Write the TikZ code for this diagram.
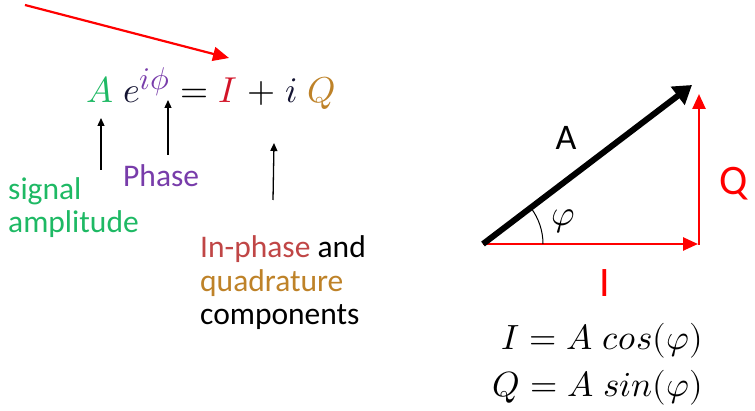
\documentclass[tikz,border=0pt]{standalone}
\usepackage{fontspec}
\usepackage{unicode-math}
\setmathfont{Latin Modern Math}
\usetikzlibrary{arrows.meta}
\newfontfamily\calfont{Carlito}
\definecolor{ampgreen}{RGB}{30,185,100}
\definecolor{phpurple}{RGB}{120,60,170}
\definecolor{inred}{RGB}{192,70,70}
\definecolor{eqred}{RGB}{210,20,40}
\definecolor{quadbrown}{RGB}{190,130,40}
\definecolor{eqnavy}{RGB}{20,20,50}
\tikzset{
  lbl/.style={anchor=base west,inner sep=0pt,font=\calfont\fontsize{31.5}{33}\selectfont},
  thinarrow/.style={draw=black,line width=1.3pt,-{Triangle[length=8pt,width=7pt]}},
  redarrow/.style={draw=red,line width=2.5pt,-{Triangle[length=15pt,width=13pt]}},
  bigarrow/.style={draw=black,line width=6pt,-{Triangle[length=18pt,width=22pt]}},
  bigtxt/.style={inner sep=0pt,text=red,font=\calfont\fontsize{42}{46}\selectfont},
}
\begin{document}
\begin{tikzpicture}[x=1pt,y=-1pt]
\useasboundingbox (0,0) rectangle (755,411);
% left: equation
\node[anchor=base west,inner sep=0pt,font=\fontsize{36}{40}\selectfont] (eq) at (86,103)
  {$\textcolor{ampgreen}{A}\;\textcolor{eqnavy}{e}^{\scalebox{1.25}{$\scriptstyle\textcolor{phpurple}{i\phi}$}}\;{=}\;\textcolor{eqred}{I}\;{+}\;\textcolor{eqnavy}{i}\;\textcolor{quadbrown}{Q}$};
% red pointer arrow
\coordinate (rs) at (25,5);
\coordinate (re) at (229,58);
\draw[draw=red,line width=2.2pt,-{Triangle[length=16pt,width=14pt]}] (rs) -- (re);
% labels
\node[lbl,text=ampgreen] (sig) at (8,200) {signal};
\node[lbl,text=ampgreen] (amp) at (8,233) {amplitude};
\node[lbl,text=phpurple] (ph) at (123,187) {Phase};
\node[lbl] (inph) at (200,258) {\textcolor{inred}{In-phase} and};
\node[lbl,text=quadbrown] (quad) at (200,292) {quadrature};
\node[lbl] (comp) at (200,325) {components};
% thin arrows
\coordinate (a1s) at (101,170); \coordinate (a1e) at (101,118);
\coordinate (a2s) at (168,155); \coordinate (a2e) at (168,100);
\coordinate (a3s) at (273,200); \coordinate (a3e) at (274,143);
\draw[thinarrow] (a1s) -- (a1e);
\draw[thinarrow] (a2s) -- (a2e);
\draw[thinarrow] (a3s) -- (a3e);
% right: phasor triangle
\coordinate (O) at (483,244);
\coordinate (Aend) at (692,85);
\coordinate (Iend) at (698,244);
\coordinate (Qs) at (699,245);
\coordinate (Qe) at (699,94);
\draw[redarrow] (O) -- (Iend);
\draw[redarrow] (Qs) -- (Qe);
\draw[bigarrow] (O) -- (Aend);
\draw[black,line width=1pt] (O) ++(60,0) arc[start angle=0,end angle=-37,radius=60];
\node[inner sep=0pt,font=\calfont\fontsize{36}{40}\selectfont] (Alab) at (566,138) {A};
\node[inner sep=0pt,font=\fontsize{36}{40}\selectfont] (phi) at (563,221) {$\varphi$};
\node[bigtxt,anchor=base] (Qlab) at (734,195) {Q};
\node[bigtxt,anchor=base] (Ilab) at (605,297) {I};
% right equations
\node[anchor=base east,inner sep=0pt,font=\fontsize{35}{38}\selectfont] (eqI) at (703,350) {$I=A\;cos(\varphi)$};
\node[anchor=base east,inner sep=0pt,font=\fontsize{35}{38}\selectfont] (eqQ) at (703,396) {$Q=A\;sin(\varphi)$};
\end{tikzpicture}
\end{document}
